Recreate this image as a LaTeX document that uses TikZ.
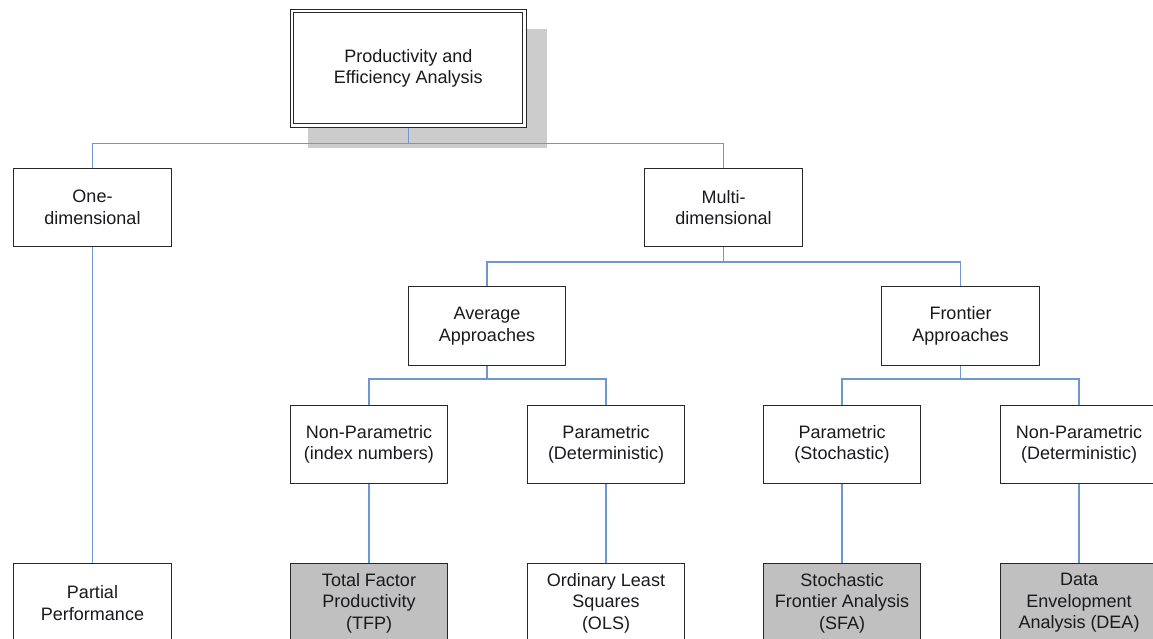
\documentclass[tikz,border=0pt]{standalone}
\usepackage{fontspec}
\setmainfont{Liberation Sans}
\usetikzlibrary{calc}

\definecolor{linkblue}{RGB}{110,150,210}
\definecolor{boxline}{RGB}{40,40,40}
\definecolor{boxgray}{RGB}{192,192,192}
\definecolor{shadowgray}{RGB}{204,204,204}
\definecolor{inkcol}{RGB}{25,25,30}

\pgfdeclarelayer{shadowlayer}
\pgfdeclarelayer{edgelayer}
\pgfsetlayers{shadowlayer,edgelayer,main}

\tikzset{
  box/.style={draw=boxline, line width=1.3pt, fill=white, text=inkcol,
    minimum width=157.5pt, minimum height=78.5pt, inner sep=0pt,
    align=center, font=\fontsize{18}{21.5}\selectfont},
  graybox/.style={box, fill=boxgray},
  titlebox/.style={box, line width=0.9pt, double=white, double distance=2.5pt,
    minimum width=232.4pt, minimum height=114.4pt},
  link/.style={draw=linkblue, line width=1.2pt},
}

\begin{document}
\begin{tikzpicture}[x=1pt, y=-1pt]
  \useasboundingbox (0,0) rectangle (1153,639);
  \clip (0,0) rectangle (1153,639);

  % level 0
  \node[titlebox] (top) at (408.3,68.4) {Productivity and\\Efficiency Analysis};

  % level 1
  \node[box] (one) at (92.5,207.5) {One-\\dimensional};
  \node[box] (multi) at (723.5,207.5) {Multi-\\dimensional};

  % level 2
  \node[box] (avg) at (487,326) {Average\\Approaches};
  \node[box] (fro) at (960.5,326) {Frontier\\Approaches};

  % level 3
  \node[box] (npin) at (369,444.5) {Non-Parametric\\(index numbers)};
  \node[box] (pdet) at (606,444.5) {Parametric\\(Deterministic)};
  \node[box] (psto) at (842,444.5) {Parametric\\(Stochastic)};
  \node[box] (npdet) at (1079,444.5) {Non-Parametric\\(Deterministic)};

  % level 4: methods
  \node[box] (ppm) at (92.5,603) {Partial\\Performance};
  \node[graybox] (tfp) at (369,603) {Total Factor\\Productivity\\(TFP)};
  \node[box] (ols) at (606,603) {Ordinary Least\\Squares\\(OLS)};
  \node[graybox] (sfa) at (842,603) {Stochastic\\Frontier Analysis\\(SFA)};
  \node[graybox] (dea) at (1079,603) {Data\\Envelopment\\Analysis (DEA)};

  % drop shadow of the title box
  \begin{pgfonlayer}{shadowlayer}
    \fill[shadowgray] ([shift={(-100.3pt,-79.6pt)}]top.center)
      rectangle ([shift={(138.7pt,39.4pt)}]top.center);
  \end{pgfonlayer}

  % connectors
  \begin{pgfonlayer}{edgelayer}
    \draw[link] (top.south) -- ++(0pt,-17.5pt) -| (one.north);
    \draw[link] (top.south) -- ++(0pt,-17.5pt) -| (multi.north);
    \draw[link] (multi.south) -- ++(0pt,-14.5pt) -| (avg.north);
    \draw[link] (multi.south) -- ++(0pt,-14.5pt) -| (fro.north);
    \draw[link] (avg.south) -- ++(0pt,-13pt) -| (npin.north);
    \draw[link] (avg.south) -- ++(0pt,-13pt) -| (pdet.north);
    \draw[link] (fro.south) -- ++(0pt,-13pt) -| (psto.north);
    \draw[link] (fro.south) -- ++(0pt,-13pt) -| (npdet.north);
    \draw[link] (one.south) -- (ppm.north);
    \draw[link] (npin.south) -- (tfp.north);
    \draw[link] (pdet.south) -- (ols.north);
    \draw[link] (psto.south) -- (sfa.north);
    \draw[link] (npdet.south) -- (dea.north);
  \end{pgfonlayer}
\end{tikzpicture}
\end{document}
